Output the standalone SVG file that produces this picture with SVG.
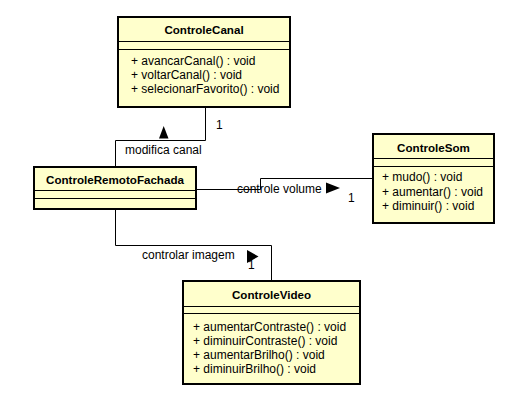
<svg xmlns="http://www.w3.org/2000/svg" width="515" height="411" viewBox="0 0 515 411">
<style>
.box{fill:#FFFFCC;stroke:#000;stroke-width:2}
.div{stroke:#000;stroke-width:1}
.t{font-family:"Liberation Sans",Arial,sans-serif;font-size:12px;fill:#000}
.b{font-weight:bold;font-size:11.6px;text-anchor:middle}
.c{fill:none;stroke:#000;stroke-width:1}
</style>
<rect width="515" height="411" fill="#fff"/>
<g id="connectors">
<polyline class="c" points="205.5,107 205.5,140.5 115.5,140.5 115.5,167"/>
<polygon points="159,138.5 168.5,138.5 163.7,126"/>
<text class="t" x="125" y="153.5">modifica canal</text>
<text class="t" x="216" y="129">1</text>
<polyline class="c" points="196,189.5 260.5,189.5 260.5,178.5 373,178.5"/>
<polygon points="326,182.5 326,193.5 340,188"/>
<text class="t" x="237" y="192.5">controle volume</text>
<text class="t" x="348" y="202">1</text>
<polyline class="c" points="115.5,209 115.5,245.5 271.5,245.5 271.5,281"/>
<polygon points="247,250 247,263 258.5,256.5"/>
<text class="t" x="142" y="259">controlar imagem</text>
<text class="t" x="248" y="269">1</text>
</g>
<g id="ControleCanal">
<rect class="box" x="118" y="17" width="172" height="90"/>
<line class="div" x1="118" y1="41.5" x2="290" y2="41.5"/>
<line class="div" x1="118" y1="49.5" x2="290" y2="49.5"/>
<text class="t b" x="204" y="34">ControleCanal</text>
<text class="t" x="131" y="65">+ avancarCanal() : void</text>
<text class="t" x="131" y="79">+ voltarCanal() : void</text>
<text class="t" x="131" y="93">+ selecionarFavorito() : void</text>
</g>
<g id="ControleRemotoFachada">
<rect class="box" x="34" y="167" width="162" height="42"/>
<line class="div" x1="34" y1="190.5" x2="196" y2="190.5"/>
<line class="div" x1="34" y1="198.5" x2="196" y2="198.5"/>
<text class="t b" x="115" y="184">ControleRemotoFachada</text>
</g>
<g id="ControleSom">
<rect class="box" x="373" y="134" width="121" height="89"/>
<line class="div" x1="373" y1="158.5" x2="494" y2="158.5"/>
<line class="div" x1="373" y1="166.5" x2="494" y2="166.5"/>
<text class="t b" x="433.5" y="151.5">ControleSom</text>
<text class="t" x="382" y="181">+ mudo() : void</text>
<text class="t" x="382" y="195.5">+ aumentar() : void</text>
<text class="t" x="382" y="210">+ diminuir() : void</text>
</g>
<g id="ControleVideo">
<rect class="box" x="183" y="281" width="177" height="103"/>
<line class="div" x1="183" y1="306.5" x2="360" y2="306.5"/>
<line class="div" x1="183" y1="313.5" x2="360" y2="313.5"/>
<text class="t b" x="271.5" y="298.5">ControleVideo</text>
<text class="t" x="193" y="330.5">+ aumentarContraste() : void</text>
<text class="t" x="193" y="344.5">+ diminuirContraste() : void</text>
<text class="t" x="193" y="358.5">+ aumentarBrilho() : void</text>
<text class="t" x="193" y="372.5">+ diminuirBrilho() : void</text>
</g>
</svg>
